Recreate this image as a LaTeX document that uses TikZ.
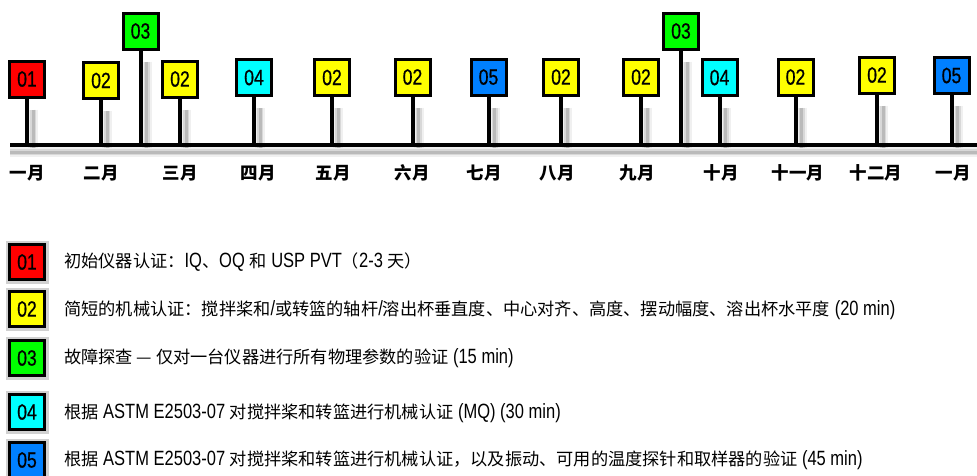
\documentclass[tikz,border=0pt]{standalone}
\usepackage{fontspec}
\setmainfont{Liberation Sans}[FakeStretch=0.8,Scale=1.2]
\newfontfamily\cjk{Noto Sans CJK SC}
\newfontfamily\numf{Liberation Sans}[FakeStretch=0.8,FakeBold=0.6]
\newcommand\zh[1]{{\cjk #1}}
\definecolor{tagred}{HTML}{FF0000}
\definecolor{tagyellow}{HTML}{FFFF00}
\definecolor{taggreen}{HTML}{00FF00}
\definecolor{tagcyan}{HTML}{00FFFF}
\definecolor{tagblue}{HTML}{0080FF}
\begin{document}
\begin{tikzpicture}[x=1pt,y=-1pt,
  tag/.style={draw=black, line width=3pt, minimum width=35pt, minimum height=36pt, inner sep=0pt, font=\numf\fontsize{22}{22}\selectfont},
  tr/.style={tag, fill=tagred},
  ty/.style={tag, fill=tagyellow},
  tg/.style={tag, fill=taggreen},
  tc/.style={tag, fill=tagcyan},
  tb/.style={tag, fill=tagblue},
  stemline/.style={line width=4pt, black},
  axisline/.style={line width=4.5pt, black},
  shadowA/.style={line width=10pt, black, opacity=0.06},
  shadowB/.style={line width=6pt, black, opacity=0.10},
  shadowC/.style={line width=3pt, black, opacity=0.14},
  month/.style={font=\cjk\bfseries\fontsize{17.5}{17.5}\selectfont, inner sep=0pt},
  legtext/.style={anchor=west, inner sep=0pt, font=\cjk\fontsize{17.2}{20}\selectfont},
  lshadow/.style={draw=black, opacity=0.18, line width=7pt, minimum width=36pt, minimum height=36pt},
]
\useasboundingbox (0,0) rectangle (977,475);
\coordinate (axL) at (10,145);
\coordinate (axR) at (977,145);

% tags on the timeline
\foreach \n/\x/\y/\s/\t in {1/27/79/tr/01, 2/101/80.5/ty/02, 3/140.5/31/tg/03, 4/180/79/ty/02,
  5/254/77.5/tc/04, 6/332/77.5/ty/02, 7/412.5/77/ty/02, 8/488.5/77/tb/05, 9/561/77/ty/02,
  10/641/77/ty/02, 11/681/31/tg/03, 12/719.5/77.5/tc/04, 13/795.5/77/ty/02, 14/877/75/ty/02, 15/951.5/75.5/tb/05}{
  \node[\s] (b\n) at (\x,\y) {\t};
}

% shadows
\foreach \w in {shadowA,shadowB,shadowC}{
  \draw[\w, transform canvas={yshift=-7pt}] (axL) -- (axR);
}
\foreach \n in {1,...,15}{
  \foreach \w in {shadowA,shadowB,shadowC}{
    \draw[\w, transform canvas={xshift=6pt,yshift=-3pt}] ([yshift=-8pt]b\n.south) -- (b\n.south |- axL);
  }
}

% axis and stems
\draw[axisline] (axL) -- (axR);
\foreach \n in {1,...,15}{
  \draw[stemline] (b\n.south) -- (b\n.south |- axL);
}
% redraw tags on top
\foreach \n/\x/\y/\s/\t in {1/27/79/tr/01, 2/101/80.5/ty/02, 3/140.5/31/tg/03, 4/180/79/ty/02,
  5/254/77.5/tc/04, 6/332/77.5/ty/02, 7/412.5/77/ty/02, 8/488.5/77/tb/05, 9/561/77/ty/02,
  10/641/77/ty/02, 11/681/31/tg/03, 12/719.5/77.5/tc/04, 13/795.5/77/ty/02, 14/877/75/ty/02, 15/951.5/75.5/tb/05}{
  \node[\s] at (\x,\y) {\t};
}

% months
\node[month] (m1) at (27,173) {一月};
\node[month] (m2) at (101,173) {二月};
\node[month] (m3) at (180,173) {三月};
\node[month] (m4) at (258,173) {四月};
\node[month] (m5) at (333,173) {五月};
\node[month] (m6) at (412,173) {六月};
\node[month] (m7) at (484,173) {七月};
\node[month] (m8) at (557,173) {八月};
\node[month] (m9) at (637,173) {九月};
\node[month] (m10) at (721,173) {十月};
\node[month] (m11) at (798,173) {十一月};
\node[month] (m12) at (876,173) {十二月};
\node[month] (m13) at (953,173) {一月};

% legend
\foreach \y/\s/\t/\k in {262/tr/01/1, 309/ty/02/2, 358/tg/03/3, 412/tc/04/4, 460/tb/05/5}{
  \node[lshadow] at (27,\y) {};
  \node[\s, minimum height=35pt] (k\k) at (27,\y) {\t};
}
\node[legtext] (t1) at (64,262) {初始仪器认证：\rmfamily IQ\zh{、}OQ \zh{和} USP PVT\zh{（}2-3 \zh{天）}};
\node[legtext] (t2) at (64,310) {简短的机械认证：搅拌桨和\rmfamily /\zh{或转篮的轴杆}/\zh{溶出杯垂直度、中心对齐、高度、摆动幅度、溶出杯水平度} (20 min)};
\node[legtext] (t3) at (64,358) {故障探查 — 仅对一台仪器进行所有物理参数的验证\rmfamily{} (15 min)};
\node[legtext] (t4) at (64,413) {根据\rmfamily{} ASTM E2503-07 \zh{对搅拌桨和转篮进行机械认证} (MQ) (30 min)};
\node[legtext] (t5) at (64,460) {根据\rmfamily{} ASTM E2503-07 \zh{对搅拌桨和转篮进行机械认证，以及振动、可用的温度探针和取样器的验证} (45 min)};
\end{tikzpicture}
\end{document}
